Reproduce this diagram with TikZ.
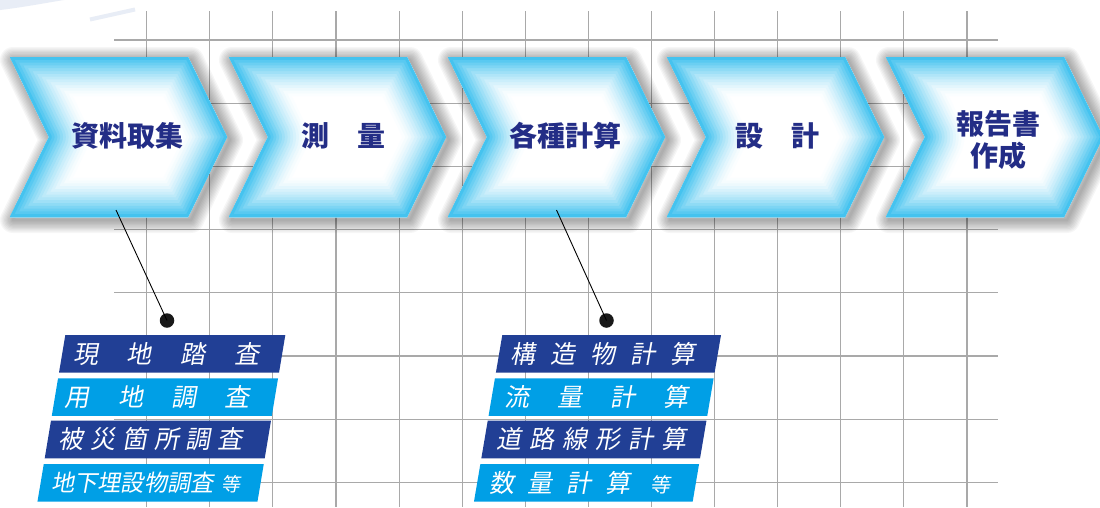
\documentclass[tikz,border=0pt]{standalone}
\usepackage{fontspec}
\newfontfamily\cjk{Noto Sans CJK JP}
\newfontfamily\cjksl[FakeSlant=0.18]{Noto Sans CJK JP}
\definecolor{navy}{HTML}{232D86}
\definecolor{barDark}{HTML}{213F95}
\definecolor{barLight}{HTML}{009FE6}
\definecolor{cy}{HTML}{45C3EF}
\definecolor{gridc}{HTML}{A9A9A9}
\definecolor{swoosh}{HTML}{E8EDF6}
\makeatletter
\newcommand\spaced[2]{\@tfor\sp@c:=#2\do{\makebox[#1][l]{\sp@c}}}
\makeatother
\tikzset{
  gridline/.style={draw=gridc, line width=1.1pt},
  clab/.style={text=navy, font=\cjk\bfseries\fontsize{28}{32}\selectfont, inner sep=0pt, align=center},
  btxt/.style={text=white, font=\cjksl\fontsize{25}{25}\selectfont, inner sep=0pt, anchor=west},
  conn/.style={draw=black, line width=0.9pt},
  dot/.style={circle, fill=black!90, minimum size=14.5pt, inner sep=0pt},
}
\begin{document}
\begin{tikzpicture}[x=1pt,y=-1pt]
\useasboundingbox[fill=white] (0,0) rectangle (1100,507);
% grid
\foreach \i in {0,...,13} \draw[gridline] ({146.7+63.1*\i},11) -- ({146.7+63.1*\i},507);
\foreach \j in {0,...,7} \draw[gridline] (114,{40+63.2*\j}) -- (998,{40+63.2*\j});
% top-left decoration
\fill[swoosh] (0,0) -- (0,10) .. controls (25,7) and (45,3) .. (64,0) -- cycle;
\draw[swoosh, line width=4pt] (90,19.5) -- (135,9.5);
% chevrons
\foreach \x in {10,229,448,667,886} {
  \foreach \s in {1,...,10} {
    \pgfmathsetmacro\lw{2.6*\s}
    \draw[black, opacity=0.035, line width=\lw pt, line join=round, shift={(3,3)}]
      (\x,57) -- ({\x+178},57) -- ({\x+217},137) -- ({\x+178},217) -- (\x,217) -- ({\x+39},137) -- cycle;
  }
  \begin{scope}
    \clip (\x,57) -- ({\x+178},57) -- ({\x+217},137) -- ({\x+178},217) -- (\x,217) -- ({\x+39},137) -- cycle;
    \fill[white] (\x,57) -- ({\x+178},57) -- ({\x+217},137) -- ({\x+178},217) -- (\x,217) -- ({\x+39},137) -- cycle;
    \foreach \i in {14,...,1} {
      \pgfmathsetmacro\mx{100*pow(1-(\i-1)/14,1.5)}
      \pgfmathsetmacro\lw{5.6*\i}
      \draw[draw=cy!\mx!white, line width=\lw pt, line join=round]
        (\x,57) -- ({\x+178},57) -- ({\x+217},137) -- ({\x+178},217) -- (\x,217) -- ({\x+39},137) -- cycle;
    }
  \end{scope}
}
% chevron labels
\node[clab] (c1) at (127,136) {資料取集};
\node[clab] (c2) at (343,136) {測　量};
\node[clab] (c3) at (565,136) {各種計算};
\node[clab] (c4) at (777,136) {設　計};
\node[clab] (c5) at (998,140) {報告書\\作成};
% left bars
\foreach \t/\c in {335/barDark,378.3/barLight,420.7/barDark,464/barLight} {
  \fill[\c] ({65.3-0.167*(\t-335)},\t) -- ({285.3-0.167*(\t-335)},\t)
    -- ({285.3-0.167*(\t+37.6-335)},{\t+37.6}) -- ({65.3-0.167*(\t+37.6-335)},{\t+37.6}) -- cycle;
}
% right bars
\foreach \t/\c in {335/barDark,378.3/barLight,420.7/barDark,464/barLight} {
  \fill[\c] ({502.3-0.17*(\t-335)},\t) -- ({721-0.17*(\t-335)},\t)
    -- ({721-0.17*(\t+37.6-335)},{\t+37.6}) -- ({502.3-0.17*(\t+37.6-335)},{\t+37.6}) -- cycle;
}
% left bar texts
\node[btxt] (a1) at (73,354) {\spaced{53.7pt}{現地踏査}};
\node[btxt] (a2) at (64.5,397) {\spaced{53.3pt}{用地調査}};
\node[btxt] (a3) at (58.5,439.5) {\spaced{31.8pt}{被災箇所調査}};
\node[btxt, font=\cjksl\fontsize{23.2}{23.2}\selectfont] (a4) at (51,483) {地下埋設物調査\hspace{8pt}{\fontsize{19}{19}\selectfont 等}};
% right bar texts
\node[btxt] (b1) at (510.5,354) {\spaced{40pt}{構造物計算}};
\node[btxt] (b2) at (504,397) {\spaced{53pt}{流量計算}};
\node[btxt] (b3) at (496,439.5) {\spaced{33pt}{道路線形計算}};
\node[btxt] (b4) at (489,483) {\spaced{38.6pt}{数量計算}\hspace{7pt}{\fontsize{20}{20}\selectfont 等}};
% connectors
\coordinate (p1) at (116,210);
\coordinate (p2) at (556.5,210);
\node[dot] (d1) at (167,320.5) {};
\node[dot] (d2) at (606.5,320.5) {};
\draw[conn] (p1) -- (d1.center);
\draw[conn] (p2) -- (d2.center);
\end{tikzpicture}
\end{document}
